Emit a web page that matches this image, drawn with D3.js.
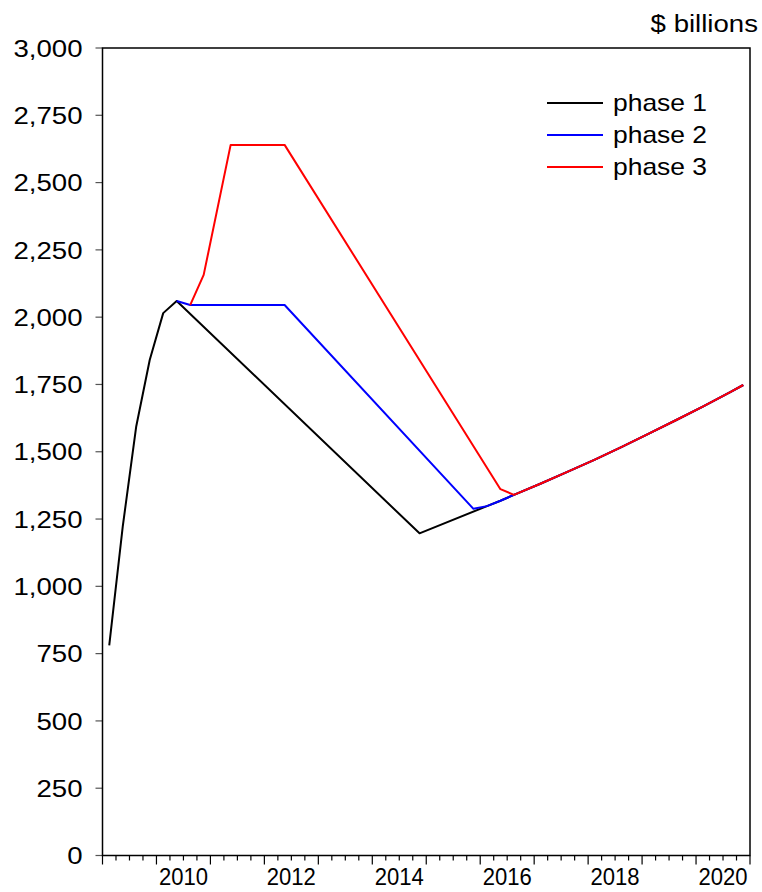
<!DOCTYPE html>
<html>
<head>
<meta charset="utf-8">
<script src="https://cdn.jsdelivr.net/npm/d3@7"></script>
<style>
  body { margin: 0; background: #fff; }
  text { font-family: "Liberation Sans", Arial, sans-serif; fill: #000; }
</style>
</head>
<body>
<div id="chart"></div>
<script>
/* Three phases, quarterly, $ billions */

const seriesNames = ["phase 1", "phase 2", "phase 3"];
const seriesColors = ["#000000", "#0000ff", "#ff0000"];

// path shared by all three phases once they meet
const tailQuarters = ["2016Q3", "2017Q1", "2017Q3", "2018Q1", "2018Q3", "2019Q1", "2019Q3", "2020Q1", "2020Q3", "2020Q4"];
const tailValues   = [1340, 1382, 1426, 1471, 1518, 1567, 1617, 1668, 1721, 1748];

const phase1Quarters = ["2009Q1", "2009Q2", "2009Q3", "2009Q4", "2010Q1", "2010Q2", "2014Q4", "2016Q1", "2016Q2"];
const phase1Values   = [781, 1222, 1594, 1841, 2015, 2060, 1197, 1298, 1318];

const phase2Quarters = ["2010Q2", "2010Q3", "2012Q2", "2015Q4", "2016Q1", "2016Q2"];
const phase2Values   = [2060, 2045, 2045, 1288, 1298, 1318];

const phase3Quarters = ["2010Q3", "2010Q4", "2011Q2", "2012Q2", "2016Q2"];
const phase3Values   = [2045, 2157, 2640, 2640, 1361];

const yTicks = d3.range(0, 3001, 250);
const xLabelYears = [2010, 2012, 2014, 2016, 2018, 2020];

const width = 762,
      height = 892,
      margin = ({ top: 48, right: 12, bottom: 36.5, left: 102.5 });

const toTime = q => +q.slice(0, 4) + (+q.slice(5) - 0.5) / 4;

const makeSeries = (qs, vs) =>
    qs.map((q, i) => ({ t: toTime(q), v: vs[i] }))
      .concat(tailQuarters.map((q, i) => ({ t: toTime(q), v: tailValues[i] })));

const series = [
    makeSeries(phase1Quarters, phase1Values),
    makeSeries(phase2Quarters, phase2Values),
    makeSeries(phase3Quarters, phase3Values)
];

const svg = d3.select("#chart")
    .append("svg")
    .attr("width", width)
    .attr("height", height);

const x = d3.scaleLinear()
    .domain([2009, 2021])
    .range([margin.left, width - margin.right]);

const y = d3.scaleLinear()
    .domain([0, 3000])
    .range([height - margin.bottom, margin.top]);

// y axis ticks and labels
const yAxis = svg.append("g");
yAxis.selectAll("line")
    .data(yTicks)
    .join("line")
    .attr("x1", x(2009) - 7)
    .attr("x2", x(2009))
    .attr("y1", d => y(d))
    .attr("y2", d => y(d))
    .attr("stroke", "#555")
    .attr("stroke-width", 1.2);

yAxis.selectAll("text")
    .data(yTicks)
    .join("text")
    .attr("transform", d => `translate(${x(2009) - 20},${y(d)}) scale(1.15,1)`)
    .attr("text-anchor", "end")
    .attr("dy", "0.36em")
    .style("font-size", "24px")
    .text(d => d3.format(",")(d));

// x axis ticks: years major, quarters minor
const xAxis = svg.append("g");
const quarterTicks = d3.range(2009, 2021.001, 0.25);
xAxis.selectAll("line")
    .data(quarterTicks)
    .join("line")
    .attr("x1", d => x(d))
    .attr("x2", d => x(d))
    .attr("y1", y(0))
    .attr("y2", d => y(0) + (Math.abs(d - Math.round(d)) < 1e-6 ? 9 : 5))
    .attr("stroke", "#000")
    .attr("stroke-width", 1.2);

xAxis.selectAll("text")
    .data(xLabelYears)
    .join("text")
    .attr("transform", d => `translate(${x(d + 0.5)},${y(0) + 29}) scale(0.92,1)`)
    .attr("text-anchor", "middle")
    .style("font-size", "24px")
    .text(d => d);

// lines
const line = d3.line()
    .x(d => x(d.t))
    .y(d => y(d.v));

svg.selectAll(".series")
    .data(series)
    .join("path")
    .attr("class", "series")
    .attr("fill", "none")
    .attr("stroke", (d, i) => seriesColors[i])
    .attr("stroke-width", 2)
    .attr("stroke-linejoin", "round")
    .attr("d", line);

// frame
svg.append("rect")
    .attr("x", x(2009))
    .attr("y", y(3000))
    .attr("width", x(2021) - x(2009))
    .attr("height", y(0) - y(3000))
    .attr("fill", "none")
    .attr("stroke", "#000")
    .attr("stroke-width", 1.5);

// unit label
svg.append("text")
    .attr("transform", `translate(${width - 4},32) scale(1.15,1)`)
    .attr("text-anchor", "end")
    .style("font-size", "24px")
    .text("$ billions");

// legend
const legend = svg.append("g")
    .attr("transform", "translate(547,103)");

const item = legend.selectAll("g")
    .data(seriesNames)
    .join("g")
    .attr("transform", (d, i) => `translate(0,${i * 32})`);

item.append("line")
    .attr("x1", 0)
    .attr("x2", 56)
    .attr("stroke", (d, i) => seriesColors[i])
    .attr("stroke-width", 2);

item.append("text")
    .attr("transform", "translate(66,0) scale(1.15,1)")
    .attr("dy", "0.36em")
    .style("font-size", "23px")
    .text(d => d);
</script>
</body>
</html>
